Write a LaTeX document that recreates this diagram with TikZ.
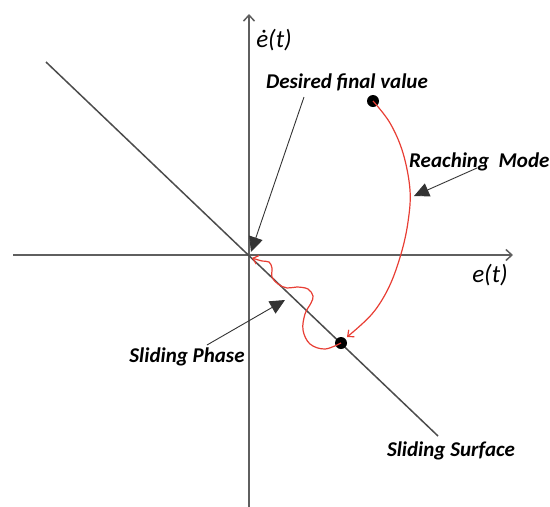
\documentclass[tikz,border=0pt]{standalone}
\usepackage{fontspec}
\setmainfont{Carlito}
\usetikzlibrary{arrows.meta}
\definecolor{trajred}{RGB}{232,62,52}
\definecolor{axisgray}{RGB}{95,95,95}
\begin{document}
\begin{tikzpicture}[x=1pt,y=-1pt,
  axis/.style={draw=axisgray,line width=1.5pt},
  lbl/.style={font=\fontsize{21}{24}\selectfont\bfseries\itshape, inner sep=0pt},
  axlbl/.style={font=\fontsize{25}{28}\selectfont\itshape, inner sep=0pt},
  pointer/.style={draw=black!80, line width=0.9pt, -{Triangle[length=15pt,width=14pt]}},
  traj/.style={draw=trajred, line width=1.2pt, -{Straight Barb[length=5pt,width=9pt]}},
  dot/.style={circle, fill=black, inner sep=0pt, minimum size=12pt}]
\useasboundingbox (0,0) rectangle (550,507);
% axes
\coordinate (xl) at (13,255);
\coordinate (xr) at (513,255);
\coordinate (yb) at (249,507);
\coordinate (yt) at (249,14);
\coordinate (O) at (249,255);
\draw[axis, -{Straight Barb[length=6pt,width=11pt]}] (xl) -- (xr);
\draw[axis, -{Straight Barb[length=6pt,width=11pt]}] (yb) -- (yt);
% sliding surface
\coordinate (s1) at (46,62);
\coordinate (s2) at (438,436);
\draw[draw=black!70, line width=1.5pt] (s1) -- (s2);
% dots
\node[dot] (P0) at (373,101) {};
\node[dot] (P1) at (341,343) {};
% labels
\node[axlbl] (edot) at (274,40) {ė(t)};
\node[axlbl] (e) at (490,275) {e(t)};
\node[lbl] (dfv) at (347,82) {Desired final value};
\node[lbl, anchor=west] (rm) at (409,162) {Reaching\ \ Mode};
\node[lbl] (sp) at (187,357) {Sliding Phase};
\node[lbl] (ss) at (451,451) {Sliding Surface};
% pointer arrows
\coordinate (a1s) at (304,97);
\coordinate (a1e) at (251,252);
\draw[pointer] (a1s) -- (a1e);
\coordinate (a2s) at (477,168);
\coordinate (a2e) at (414,196);
\draw[pointer] (a2s) -- (a2e);
\coordinate (a3s) at (207,345);
\coordinate (a3e) at (285,300);
\draw[pointer] (a3s) -- (a3e);
% reaching trajectory
\draw[traj] plot[smooth, tension=0.6] coordinates {(373,101) (390,123) (403,153) (410,190) (408,222) (401,254) (389,287) (372,314) (347,337)};
% sliding phase trajectory
\draw[traj] plot[smooth, tension=0.6] coordinates {(341,343) (325,349) (310,344) (303,330) (305,314) (311,303) (313,296) (308,289) (297,287) (287,288) (278,284) (272,277) (272,268) (269,262) (262,261) (252,258)};
\end{tikzpicture}
\end{document}
